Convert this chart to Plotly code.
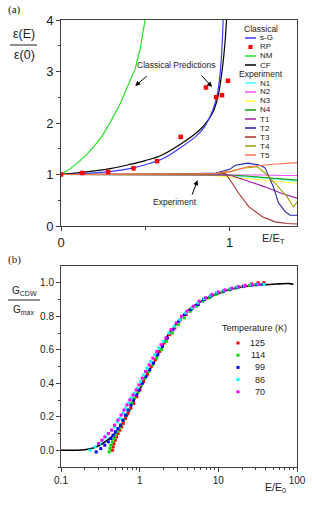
import plotly.graph_objects as go

W, H = 312, 505

# ---------------- Panel (a) data ----------------
nm_x = [0, 0.05, 0.1, 0.15, 0.2, 0.25, 0.29, 0.35, 0.4, 0.44, 0.47, 0.5, 0.52]
nm_y = [1.0, 1.1, 1.23, 1.38, 1.56, 1.78, 2.0, 2.37, 2.75, 3.05, 3.45, 4.0, 4.4]

sg_x = [0, 0.1, 0.2, 0.3, 0.4, 0.5, 0.6, 0.7, 0.8, 0.85, 0.9, 0.93, 0.95, 0.962, 0.97]
sg_y = [1.0, 1.01, 1.03, 1.06, 1.11, 1.19, 1.3, 1.5, 1.74, 1.92, 2.25, 2.6, 3.2, 4.0, 4.6]

cf_x = [0, 0.1, 0.2, 0.3, 0.4, 0.5, 0.6, 0.7, 0.8, 0.85, 0.9, 0.93, 0.95, 0.97, 0.982, 0.99]
cf_y = [1.0, 1.03, 1.07, 1.12, 1.19, 1.27, 1.38, 1.57, 1.8, 1.96, 2.2, 2.5, 2.88, 3.45, 4.0, 4.5]

rp_x = [0, 0.125, 0.28, 0.43, 0.57, 0.71, 0.86, 0.92, 0.955, 0.99]
rp_y = [1.0, 1.03, 1.05, 1.12, 1.26, 1.73, 2.69, 2.5, 2.54, 2.82]

n1_x = [0, 0.3, 0.6, 0.8, 0.9, 1.0, 1.1, 1.2, 1.3, 1.4]
n1_y = [1.0, 1.0, 1.0, 0.99, 0.99, 0.98, 0.96, 0.94, 0.91, 0.87]
n2_x = [0, 0.3, 0.6, 0.8, 0.9, 1.0, 1.1, 1.2, 1.3, 1.4]
n2_y = [1.0, 1.0, 1.0, 1.0, 1.0, 1.0, 0.99, 0.99, 0.98, 0.98]
n3_x = [0, 0.3, 0.6, 0.8, 0.9, 1.0, 1.11, 1.2, 1.3, 1.4]
n3_y = [1.0, 1.0, 0.99, 0.99, 0.98, 0.95, 0.91, 0.88, 0.86, 0.83]
n4_x = [0, 0.3, 0.6, 0.8, 0.9, 1.0, 1.1, 1.23, 1.3, 1.4]
n4_y = [1.0, 1.0, 1.0, 1.0, 1.0, 0.99, 0.97, 0.93, 0.91, 0.89]
t1_x = [0, 0.3, 0.6, 0.9, 1.0, 1.095, 1.21, 1.31, 1.4]
t1_y = [1.0, 1.0, 1.0, 1.0, 0.99, 0.89, 0.76, 0.63, 0.54]
t2_x = [0, 0.3, 0.6, 0.8, 0.92, 1.0, 1.035, 1.11, 1.18, 1.21, 1.26, 1.29, 1.33, 1.36, 1.4]
t2_y = [1.0, 1.0, 1.01, 1.02, 1.03, 1.1, 1.18, 1.22, 1.18, 1.13, 0.76, 0.45, 0.28, 0.21, 0.21]
t3_x = [0, 0.3, 0.6, 0.8, 0.9, 0.976, 1.016, 1.055, 1.115, 1.195, 1.27, 1.34, 1.4]
t3_y = [1.0, 1.0, 1.0, 1.01, 1.02, 1.02, 0.83, 0.63, 0.37, 0.18, 0.08, 0.05, 0.04]
t4_x = [0, 0.3, 0.6, 0.8, 0.917, 1.0, 1.075, 1.165, 1.21, 1.27, 1.34, 1.38, 1.4]
t4_y = [1.0, 1.0, 1.0, 1.01, 1.02, 1.06, 1.12, 1.15, 1.03, 0.83, 0.57, 0.37, 0.47]
t5_x = [0, 0.3, 0.6, 0.8, 0.917, 1.0, 1.11, 1.26, 1.4]
t5_y = [1.0, 1.0, 1.0, 1.01, 1.02, 1.05, 1.15, 1.2, 1.23]

classical_names = ["s-G", "RP", "NM", "CF"]
classical_colors = ["#3a3aff", "#ff0000", "#22e022", "#000000"]
exp_names = ["N1", "N2", "N3", "N4", "T1", "T2", "T3", "T4", "T5"]
exp_colors = ["#40ffff", "#ff55ff", "#ffff30", "#10a010", "#a020a0",
              "#2020b0", "#a83030", "#a0a000", "#ff7050"]
exp_x = [n1_x, n2_x, n3_x, n4_x, t1_x, t2_x, t3_x, t4_x, t5_x]
exp_y = [n1_y, n2_y, n3_y, n4_y, t1_y, t2_y, t3_y, t4_y, t5_y]

# ---------------- Panel (b) data ----------------
fit_x = [0.1, 0.15, 0.2, 0.25, 0.3, 0.35, 0.4, 0.45, 0.5, 0.6, 0.7, 0.8, 0.9, 1.0, 1.2, 1.5,
         1.7, 2.0, 2.3, 3.0, 4.0, 5.0, 7.0, 10, 14, 20, 30, 45, 60, 80, 90]
fit_y = [0.0, 0.0, 0.003, 0.012, 0.027, 0.045, 0.065, 0.085, 0.11, 0.16, 0.21, 0.27, 0.32, 0.36,
         0.44, 0.52, 0.57, 0.63, 0.69, 0.76, 0.83, 0.865, 0.905, 0.935, 0.96, 0.975, 0.985,
         0.99, 0.993, 0.995, 0.99]

r125_x = [0.45, 0.46, 0.47, 0.49, 0.51, 0.53, 0.56, 0.59, 0.62, 0.66, 0.71, 0.77, 0.84, 0.92,
          1.01, 1.12, 1.25, 1.4, 1.58, 1.8, 2.05, 2.4, 2.8, 3.3, 3.9, 4.7, 5.6, 6.7, 8.1, 9.8,
          11.9, 14.6, 17.9, 21.8, 26.5, 32, 38]
r125_y = [0.0, 0.02, 0.04, 0.06, 0.08, 0.1, 0.12, 0.14, 0.16, 0.19, 0.22, 0.25, 0.28, 0.32,
          0.36, 0.41, 0.45, 0.5, 0.54, 0.59, 0.64, 0.69, 0.73, 0.78, 0.81, 0.85, 0.87, 0.9, 0.92,
          0.94, 0.953, 0.965, 0.975, 0.985, 0.993, 1.0, 1.0]
g114_x = [0.41, 0.42, 0.43, 0.45, 0.47, 0.49, 0.52, 0.55, 0.58, 0.62, 0.67, 0.73, 0.79, 0.86,
          0.95, 1.05, 1.17, 1.3, 1.46, 1.65, 1.9, 2.2, 2.6, 3.1, 3.7, 4.4, 5.3, 6.4, 7.7, 9.3,
          11.2, 13.7, 16.8, 20.5, 25, 30, 36]
g114_y = [-0.01, 0.01, 0.03, 0.05, 0.07, 0.09, 0.11, 0.13, 0.15, 0.18, 0.21, 0.24, 0.28, 0.31,
          0.35, 0.39, 0.43, 0.47, 0.51, 0.55, 0.6, 0.65, 0.7, 0.75, 0.79, 0.83, 0.86, 0.89, 0.91,
          0.93, 0.945, 0.957, 0.968, 0.977, 0.984, 0.988, 0.99]
b99_x = [0.28, 0.32, 0.36, 0.4, 0.43, 0.46, 0.49, 0.53, 0.57, 0.61, 0.66, 0.71, 0.77, 0.83,
         0.9, 0.98, 1.08, 1.2, 1.34, 1.5, 1.7, 1.95, 2.25, 2.65, 3.15, 3.75, 4.5, 5.4, 6.5, 7.9,
         9.6, 11.6, 14.2, 17.3, 21, 26, 31, 37]
b99_y = [-0.01, 0.01, 0.03, 0.05, 0.07, 0.09, 0.11, 0.13, 0.15, 0.18, 0.21, 0.24, 0.27, 0.3,
         0.33, 0.36, 0.4, 0.44, 0.48, 0.52, 0.57, 0.62, 0.67, 0.72, 0.77, 0.81, 0.84, 0.87, 0.9,
         0.92, 0.94, 0.95, 0.962, 0.972, 0.979, 0.985, 0.988, 0.99]
c86_x = [0.235, 0.27, 0.31, 0.34, 0.37, 0.4, 0.44, 0.48, 0.52, 0.56, 0.61, 0.66, 0.72, 0.78,
         0.85, 0.93, 1.02, 1.12, 1.24, 1.38, 1.55, 1.75, 2.0, 2.35, 2.75, 3.25, 3.85, 4.6, 5.5,
         6.6, 8.0, 9.7, 11.8, 14.4, 17.6, 21.5, 26, 32, 38]
c86_y = [0.0, 0.02, 0.04, 0.06, 0.08, 0.1, 0.12, 0.14, 0.17, 0.19, 0.22, 0.25, 0.28, 0.31,
         0.34, 0.37, 0.41, 0.45, 0.49, 0.53, 0.57, 0.61, 0.65, 0.7, 0.74, 0.78, 0.82, 0.85, 0.88,
         0.905, 0.925, 0.942, 0.955, 0.966, 0.975, 0.982, 0.987, 0.99, 0.99]
m70_x = [0.3, 0.33, 0.36, 0.4, 0.44, 0.48, 0.53, 0.58, 0.63, 0.69, 0.75, 0.82, 0.9, 0.98,
         1.08, 1.19, 1.32, 1.47, 1.65, 1.87, 2.15, 2.5, 2.9, 3.4, 4.0, 4.8, 5.7, 6.9, 8.3, 10,
         12.2, 14.9, 18.2, 22, 27, 33]
m70_y = [0.04, 0.06, 0.08, 0.1, 0.12, 0.15, 0.18, 0.21, 0.24, 0.27, 0.3, 0.33, 0.36, 0.39,
         0.43, 0.47, 0.51, 0.55, 0.59, 0.63, 0.67, 0.72, 0.76, 0.8, 0.83, 0.86, 0.89, 0.91, 0.93,
         0.945, 0.957, 0.967, 0.976, 0.982, 0.987, 0.99]

temp_labels = ["125", "114", "99", "86", "70"]
temp_colors = ["#ff0000", "#00dd00", "#0000ff", "#00ffff", "#ff00ff"]
temp_x = [r125_x, g114_x, b99_x, c86_x, m70_x]
temp_y = [r125_y, g114_y, b99_y, c86_y, m70_y]

# ---------------- geometry helpers ----------------
def px(x):
    return x / W

def py(y):
    return 1 - y / H

SANS = "Liberation Sans, Arial, sans-serif"
SERIF = "Liberation Serif, Times New Roman, serif"
AX = "#404040"
TXT = "#222"


def label(x, y, text, size, family=SANS, xanchor="center"):
    return dict(x=px(x), y=py(y), xref="paper", yref="paper", text=text, showarrow=False,
                font=dict(family=family, size=size, color=TXT),
                xanchor=xanchor, yanchor="middle")


fig = go.Figure()

# Panel (a) traces
fig.add_trace(go.Scatter(x=nm_x, y=nm_y, mode="lines", line=dict(color=classical_colors[2], width=1.2),
                         xaxis="x", yaxis="y", showlegend=False))
fig.add_trace(go.Scatter(x=cf_x, y=cf_y, mode="lines", line=dict(color=classical_colors[3], width=1.2, shape="spline"),
                         xaxis="x", yaxis="y", showlegend=False))
fig.add_trace(go.Scatter(x=sg_x, y=sg_y, mode="lines", line=dict(color=classical_colors[0], width=1.2, shape="spline"),
                         xaxis="x", yaxis="y", showlegend=False))
for xs, ys, c in zip(exp_x, exp_y, exp_colors):
    fig.add_trace(go.Scatter(x=xs, y=ys, mode="lines", line=dict(color=c, width=1.1),
                             xaxis="x", yaxis="y", showlegend=False))
fig.add_trace(go.Scatter(x=rp_x, y=rp_y, mode="markers",
                         marker=dict(symbol="square", size=4.5, color=classical_colors[1]),
                         xaxis="x", yaxis="y", showlegend=False))

# Panel (b) traces
fig.add_trace(go.Scatter(x=fit_x, y=fit_y, mode="lines", line=dict(color="#000000", width=1.6, shape="spline"),
                         xaxis="x2", yaxis="y2", showlegend=False))
for xs, ys, c in zip(temp_x, temp_y, temp_colors):
    fig.add_trace(go.Scatter(x=xs, y=ys, mode="markers",
                             marker=dict(symbol="square", size=3, color=c),
                             xaxis="x2", yaxis="y2", showlegend=False))

shapes = []
ann = []

# ----- Legend (a) -----
ann.append(label(261, 29, "Classical", 8.5))
leg_y_classical = [38, 47, 56, 65]
for i, (name, c) in enumerate(zip(classical_names, classical_colors)):
    yy = leg_y_classical[i]
    if name == "RP":
        shapes.append(dict(type="rect", xref="paper", yref="paper", x0=px(248.5), x1=px(252.5),
                           y0=py(yy - 2), y1=py(yy + 2), fillcolor=c, line=dict(width=0)))
    else:
        shapes.append(dict(type="line", xref="paper", yref="paper", x0=px(245), x1=px(256),
                           y0=py(yy), y1=py(yy), line=dict(color=c, width=1.5)))
    ann.append(label(258, yy, name, 8, xanchor="left"))
ann.append(label(261, 74, "Experiment", 8.5))
for i, (name, c) in enumerate(zip(exp_names, exp_colors)):
    yy = 83 + 9 * i
    shapes.append(dict(type="line", xref="paper", yref="paper", x0=px(245), x1=px(256),
                       y0=py(yy), y1=py(yy), line=dict(color=c, width=1.5)))
    ann.append(label(258, yy, name, 8, xanchor="left"))

# ----- annotations in (a) -----
ann.append(dict(x=0.68, y=3.13, xref="x", yref="y", text="Classical Predictions", showarrow=False,
                font=dict(family=SANS, size=8.5, color=TXT), xanchor="center", yanchor="middle"))
ann.append(dict(x=0.44, y=2.72, xref="x", yref="y", text="", showarrow=True, ax=13, ay=-11,
                arrowhead=2, arrowsize=1, arrowwidth=1, arrowcolor="#000"))
ann.append(dict(x=0.896, y=2.70, xref="x", yref="y", text="", showarrow=True, ax=-12, ay=-13,
                arrowhead=2, arrowsize=1, arrowwidth=1, arrowcolor="#000"))
ann.append(dict(x=0.676, y=0.47, xref="x", yref="y", text="Experiment", showarrow=False,
                font=dict(family=SANS, size=8.5, color=TXT), xanchor="center", yanchor="middle"))
ann.append(dict(x=0.81, y=0.89, xref="x", yref="y", text="", showarrow=True, ax=-6, ay=16,
                arrowhead=2, arrowsize=1, arrowwidth=1, arrowcolor="#000"))

# ----- axis titles (a) -----
ann.append(label(24, 34, "ε(E)", 12.5))
shapes.append(dict(type="line", xref="paper", yref="paper", x0=px(10), x1=px(37),
                   y0=py(45), y1=py(45), line=dict(color=TXT, width=1)))
ann.append(label(24, 55, "ε(0)", 12.5))
ann.append(label(273, 239, "E/E<sub>T</sub>", 11))
ann.append(label(14, 9, "(a)", 11, family=SERIF))

# ----- (b) texts -----
ann.append(label(14, 259, "(b)", 11, family=SERIF))
ann.append(label(24, 291, "G<sub>CDW</sub>", 10))
shapes.append(dict(type="line", xref="paper", yref="paper", x0=px(8), x1=px(40),
                   y0=py(300), y1=py(300), line=dict(color=TXT, width=1)))
ann.append(label(24, 310, "G<sub>max</sub>", 10))
ann.append(label(275, 488, "E/E<sub>0</sub>", 10.5))

# ----- Legend (b) -----
ann.append(label(254, 328, "Temperature (K)", 9))
for i, (lab, c) in enumerate(zip(temp_labels, temp_colors)):
    yy = 343 + 12.2 * i
    shapes.append(dict(type="rect", xref="paper", yref="paper", x0=px(236.5), x1=px(239.5),
                       y0=py(yy - 1.5), y1=py(yy + 1.5), fillcolor=c, line=dict(width=0)))
    ann.append(label(267, yy, lab, 9, xanchor="right"))

axis_common = dict(showline=True, linecolor=AX, linewidth=1, mirror=True, showgrid=False,
                   zeroline=False, ticks="outside", tickcolor=AX, ticklen=4, tickwidth=1,
                   automargin=False)

fig.update_layout(
    template="none",
    width=W, height=H, margin=dict(l=0, r=0, t=0, b=0, autoexpand=False),
    paper_bgcolor="white", plot_bgcolor="white", showlegend=False,
    xaxis=dict(domain=[px(61), px(297)], range=[0, 1.4], anchor="y",
               tickvals=[0, 1], ticktext=["0", "1"],
               minor=dict(tickvals=[0.5], ticks="outside", ticklen=3, tickcolor=AX),
               tickfont=dict(family=SANS, size=13, color=TXT), **axis_common),
    yaxis=dict(domain=[py(226), py(20)], range=[0, 4], anchor="x",
               tickvals=[0, 1, 2, 3, 4],
               minor=dict(tickvals=[0.5, 1.5, 2.5, 3.5], ticks="outside", ticklen=2, tickcolor=AX),
               tickfont=dict(family=SANS, size=13, color=TXT), **axis_common),
    xaxis2=dict(domain=[px(61), px(297)], type="log", range=[-1, 2], anchor="y2",
                tickvals=[0.1, 1, 10, 100], ticktext=["0.1", "1", "10", "100"],
                minor=dict(tickvals=[0.2, 0.3, 0.4, 0.5, 0.6, 0.7, 0.8, 0.9,
                                     2, 3, 4, 5, 6, 7, 8, 9,
                                     20, 30, 40, 50, 60, 70, 80, 90],
                           ticks="outside", ticklen=2, tickcolor=AX),
                tickfont=dict(family=SANS, size=10, color=TXT), **axis_common),
    yaxis2=dict(domain=[py(467), py(266)], range=[-0.1, 1.1], anchor="x2",
                tickvals=[0, 0.2, 0.4, 0.6, 0.8, 1.0],
                ticktext=["0.0", "0.2", "0.4", "0.6", "0.8", "1.0"],
                minor=dict(tickvals=[-0.1, 0.1, 0.3, 0.5, 0.7, 0.9], ticks="outside", ticklen=2, tickcolor=AX),
                tickfont=dict(family=SANS, size=10, color=TXT), **axis_common),
    shapes=shapes, annotations=ann,
)

fig.write_html("out.html", config={"displayModeBar": False},
               post_script="document.body.style.margin='0px';document.body.style.padding='0px';")
